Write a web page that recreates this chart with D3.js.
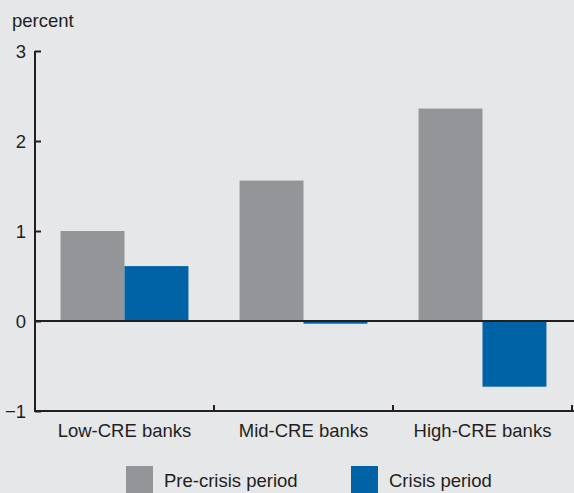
<!DOCTYPE html>
<html>
<head>
<meta charset="utf-8">
<script src="https://cdn.jsdelivr.net/npm/d3@7"></script>
<style>
  html, body { margin: 0; padding: 0; background: #e6e7e9; }
  svg { display: block; }
  text { font-family: "Liberation Sans", Arial, Helvetica, sans-serif; fill: #231f20; }
</style>
</head>
<body>
<svg id="chart" width="574" height="493"></svg>
<script>
const categories = ["Low-CRE banks", "Mid-CRE banks", "High-CRE banks"];
const seriesNames = ["Pre-crisis period", "Crisis period"];
const preCrisis = [1.00, 1.56, 2.36];
const crisis = [0.61, -0.03, -0.73];
const yTicks = [-1, 0, 1, 2, 3];
const colors = ["#939598", "#0063a6"];

(function () {
const svg = d3.select("#chart");
const W = 574, H = 493;
const fs = 18.5;
svg.append("rect").attr("width", W).attr("height", H).attr("fill", "#e6e7e9");

const mLeft = 35, mRight = 572, mTop = 51, mBottom = 411;
const x = d3.scaleBand().domain(categories).range([mLeft, mRight]).paddingInner(0).paddingOuter(0);
const inner = d3.scaleBand().domain(seriesNames).range([0, x.bandwidth()]).paddingInner(0).paddingOuter(0.4);
const y = d3.scaleLinear().domain([-1, 3]).range([mBottom, mTop]);

const data = categories.map((c, i) => ({ cat: c, vals: [preCrisis[i], crisis[i]] }));

const g = svg.append("g");
data.forEach(d => {
  d.vals.forEach((v, j) => {
    g.append("rect")
      .attr("x", x(d.cat) + inner(seriesNames[j]))
      .attr("width", inner.bandwidth())
      .attr("y", y(Math.max(0, v)))
      .attr("height", Math.abs(y(v) - y(0)))
      .attr("fill", colors[j]);
  });
});

const axisColor = "#231f20";
svg.append("line").attr("x1", mLeft).attr("x2", W).attr("y1", y(0)).attr("y2", y(0))
  .attr("stroke", axisColor).attr("stroke-width", 2);

const yAxis = svg.append("g").attr("transform", `translate(${mLeft},0)`)
  .call(d3.axisRight(y).tickValues(yTicks).tickSize(6).tickFormat(""));
yAxis.select(".domain").remove();
yAxis.selectAll(".tick line").attr("stroke", axisColor).attr("stroke-width", 2);
svg.append("line").attr("x1", mLeft).attr("x2", mLeft).attr("y1", mTop).attr("y2", mBottom + 1)
  .attr("stroke", axisColor).attr("stroke-width", 2);
yTicks.forEach(t => {
  svg.append("text").attr("x", 26).attr("y", y(t) + 6.5).attr("text-anchor", "end")
    .attr("font-size", fs).text(t < 0 ? "\u2212" + Math.abs(t) : String(t));
});

svg.append("text").attr("x", 12).attr("y", 27).attr("font-size", fs).text("percent");

svg.append("line").attr("x1", mLeft - 1).attr("x2", W).attr("y1", mBottom).attr("y2", mBottom)
  .attr("stroke", axisColor).attr("stroke-width", 2);
categories.forEach(c => {
  const xr = x(c) + x.bandwidth();
  svg.append("line").attr("x1", xr).attr("x2", xr).attr("y1", mBottom).attr("y2", mBottom - 6)
    .attr("stroke", axisColor).attr("stroke-width", 2);
  svg.append("text").attr("x", x(c) + x.bandwidth() / 2).attr("y", 437)
    .attr("text-anchor", "middle").attr("font-size", fs).text(c);
});

const legendX = [126, 351];
seriesNames.forEach((s, j) => {
  svg.append("rect").attr("x", legendX[j]).attr("y", 466).attr("width", 27).attr("height", 27)
    .attr("fill", colors[j]);
  svg.append("text").attr("x", legendX[j] + 38).attr("y", 487).attr("font-size", fs).text(s);
});
})();
</script>
</body>
</html>
